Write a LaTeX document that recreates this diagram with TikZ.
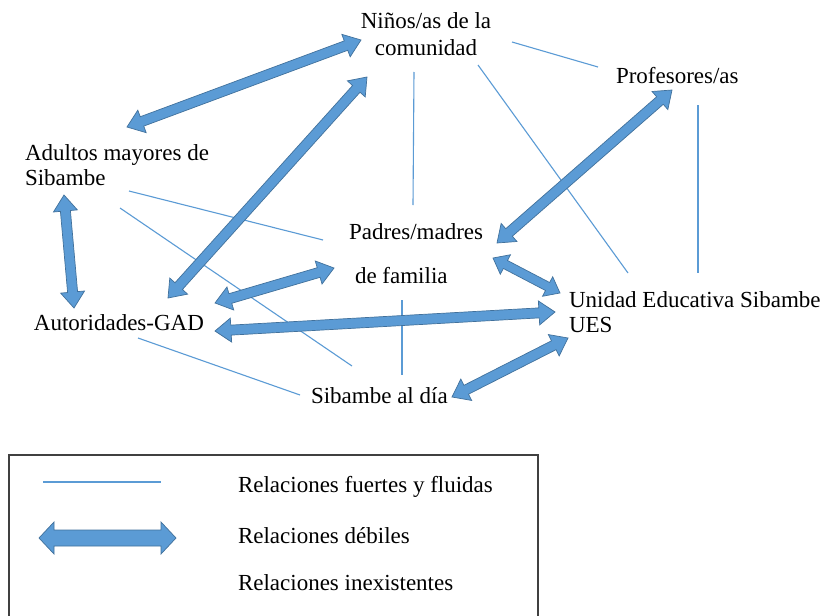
\documentclass[tikz,border=0pt]{standalone}
\usepackage{fontspec}
\setmainfont{Liberation Serif}
\usetikzlibrary{calc}
\definecolor{arrfill}{HTML}{5B9BD5}
\definecolor{arrline}{HTML}{41719C}
\definecolor{thin}{HTML}{5B9BD5}
\definecolor{boxline}{HTML}{404040}
\tikzset{
  lbl/.style={inner sep=0pt, outer sep=0pt, font=\fontsize{23}{26}\selectfont, text=black},
  strong/.style={draw=thin, line width=1.1pt},
  weakarr/.style={fill=arrfill, draw=arrline, line width=0.7pt, line join=miter},
}
% block double arrow: #1 start, #2 end, #3 shaft half width, #4 head half width, #5 head length
\newcommand\blockarr[5]{%
  \coordinate (ba1) at ($(#1)!#5!(#2)$);
  \coordinate (ba2) at ($(#2)!#5!(#1)$);
  \path[weakarr] (#1) -- ($(ba1)!#4!90:(#2)$) -- ($(ba1)!#3!90:(#2)$)
    -- ($(ba2)!#3!90:(#2)$) -- ($(ba2)!#4!90:(#2)$) -- (#2)
    -- ($(ba2)!#4!-90:(#2)$) -- ($(ba2)!#3!-90:(#2)$)
    -- ($(ba1)!#3!-90:(#2)$) -- ($(ba1)!#4!-90:(#2)$) -- cycle;}
\begin{document}
\begin{tikzpicture}[x=1pt,y=-1pt]
\useasboundingbox (0,0) rectangle (823,616);
\fill[white] (0,0) rectangle (823,616);
% nodes
\node[lbl, anchor=base, align=center, font=\fontsize{23}{27}\selectfont] (ninos) at (426,55) {Niños/as de la\\comunidad};
\node[lbl, anchor=base west] (prof) at (616,83) {Profesores/as};
\node[lbl, anchor=base west, align=left, font=\fontsize{23}{25}\selectfont] (adultos) at (25,185) {Adultos mayores de\\Sibambe};
\node[lbl, anchor=base west] (padres) at (349,239) {Padres/madres};
\node[lbl, anchor=base west] (familia) at (355,283) {de familia};
\node[lbl, anchor=base west] (gad) at (34,330) {Autoridades-GAD};
\node[lbl, anchor=base west, align=left, font=\fontsize{23}{25}\selectfont] (ues) at (569,332) {Unidad Educativa Sibambe\\UES};
\node[lbl, anchor=base west] (dia) at (311,403) {Sibambe al día};
% connector ends
\coordinate (l1a) at (512,42);  \coordinate (l1b) at (598,67);
\coordinate (l2a) at (414,72);  \coordinate (l2b) at (413,205);
\coordinate (l3a) at (478,65);  \coordinate (l3b) at (628,273);
\coordinate (l4a) at (698,105); \coordinate (l4b) at (698,273);
\coordinate (l5a) at (129,191); \coordinate (l5b) at (323,240);
\coordinate (l6a) at (120,208); \coordinate (l6b) at (352,366);
\coordinate (l7a) at (138,338); \coordinate (l7b) at (300,395);
\coordinate (l8a) at (402,300); \coordinate (l8b) at (402,375);
% strong relations
\draw[strong] (l1a) -- (l1b);
\draw[strong] (l2a) -- (l2b);
\draw[strong] (l3a) -- (l3b);
\draw[strong] (l4a) -- (l4b);
\draw[strong] (l5a) -- (l5b);
\draw[strong] (l6a) -- (l6b);
\draw[strong] (l7a) -- (l7b);
\draw[strong] (l8a) -- (l8b);
% weak relations
\coordinate (aA1) at (127,127); \coordinate (aA2) at (361,40);
\coordinate (aB1) at (168,298); \coordinate (aB2) at (367,77);
\coordinate (aC1) at (497,243); \coordinate (aC2) at (672,90);
\coordinate (aD1) at (64,195);  \coordinate (aD2) at (74,308);
\coordinate (aE1) at (215,303); \coordinate (aE2) at (334,268);
\coordinate (aF1) at (493,258); \coordinate (aF2) at (560,293);
\coordinate (aG1) at (215,331); \coordinate (aG2) at (555,312);
\coordinate (aH1) at (452,397); \coordinate (aH2) at (568,338);
\blockarr{aA1}{aA2}{5pt}{12pt}{16pt}
\blockarr{aB1}{aB2}{5pt}{12pt}{16pt}
\blockarr{aC1}{aC2}{5pt}{12pt}{16pt}
\blockarr{aD1}{aD2}{5pt}{12pt}{16pt}
\blockarr{aE1}{aE2}{5pt}{12pt}{16pt}
\blockarr{aF1}{aF2}{4.5pt}{11pt}{14pt}
\blockarr{aG1}{aG2}{5pt}{12pt}{16pt}
\blockarr{aH1}{aH2}{5pt}{12pt}{16pt}
% legend
\draw[draw=boxline, line width=1.4pt] (9,640) -- (9,455) -- (538,455) -- (538,640);
\coordinate (lg1a) at (43,482); \coordinate (lg1b) at (161,482);
\draw[strong] (lg1a) -- (lg1b);
\coordinate (lg2a) at (39,538); \coordinate (lg2b) at (176,538);
\blockarr{lg2a}{lg2b}{8pt}{16pt}{15pt}
\node[lbl, anchor=base west] (t1) at (238,492) {Relaciones fuertes y fluidas};
\node[lbl, anchor=base west] (t2) at (238,543) {Relaciones débiles};
\node[lbl, anchor=base west] (t3) at (238,590) {Relaciones inexistentes};
\end{tikzpicture}
\end{document}
